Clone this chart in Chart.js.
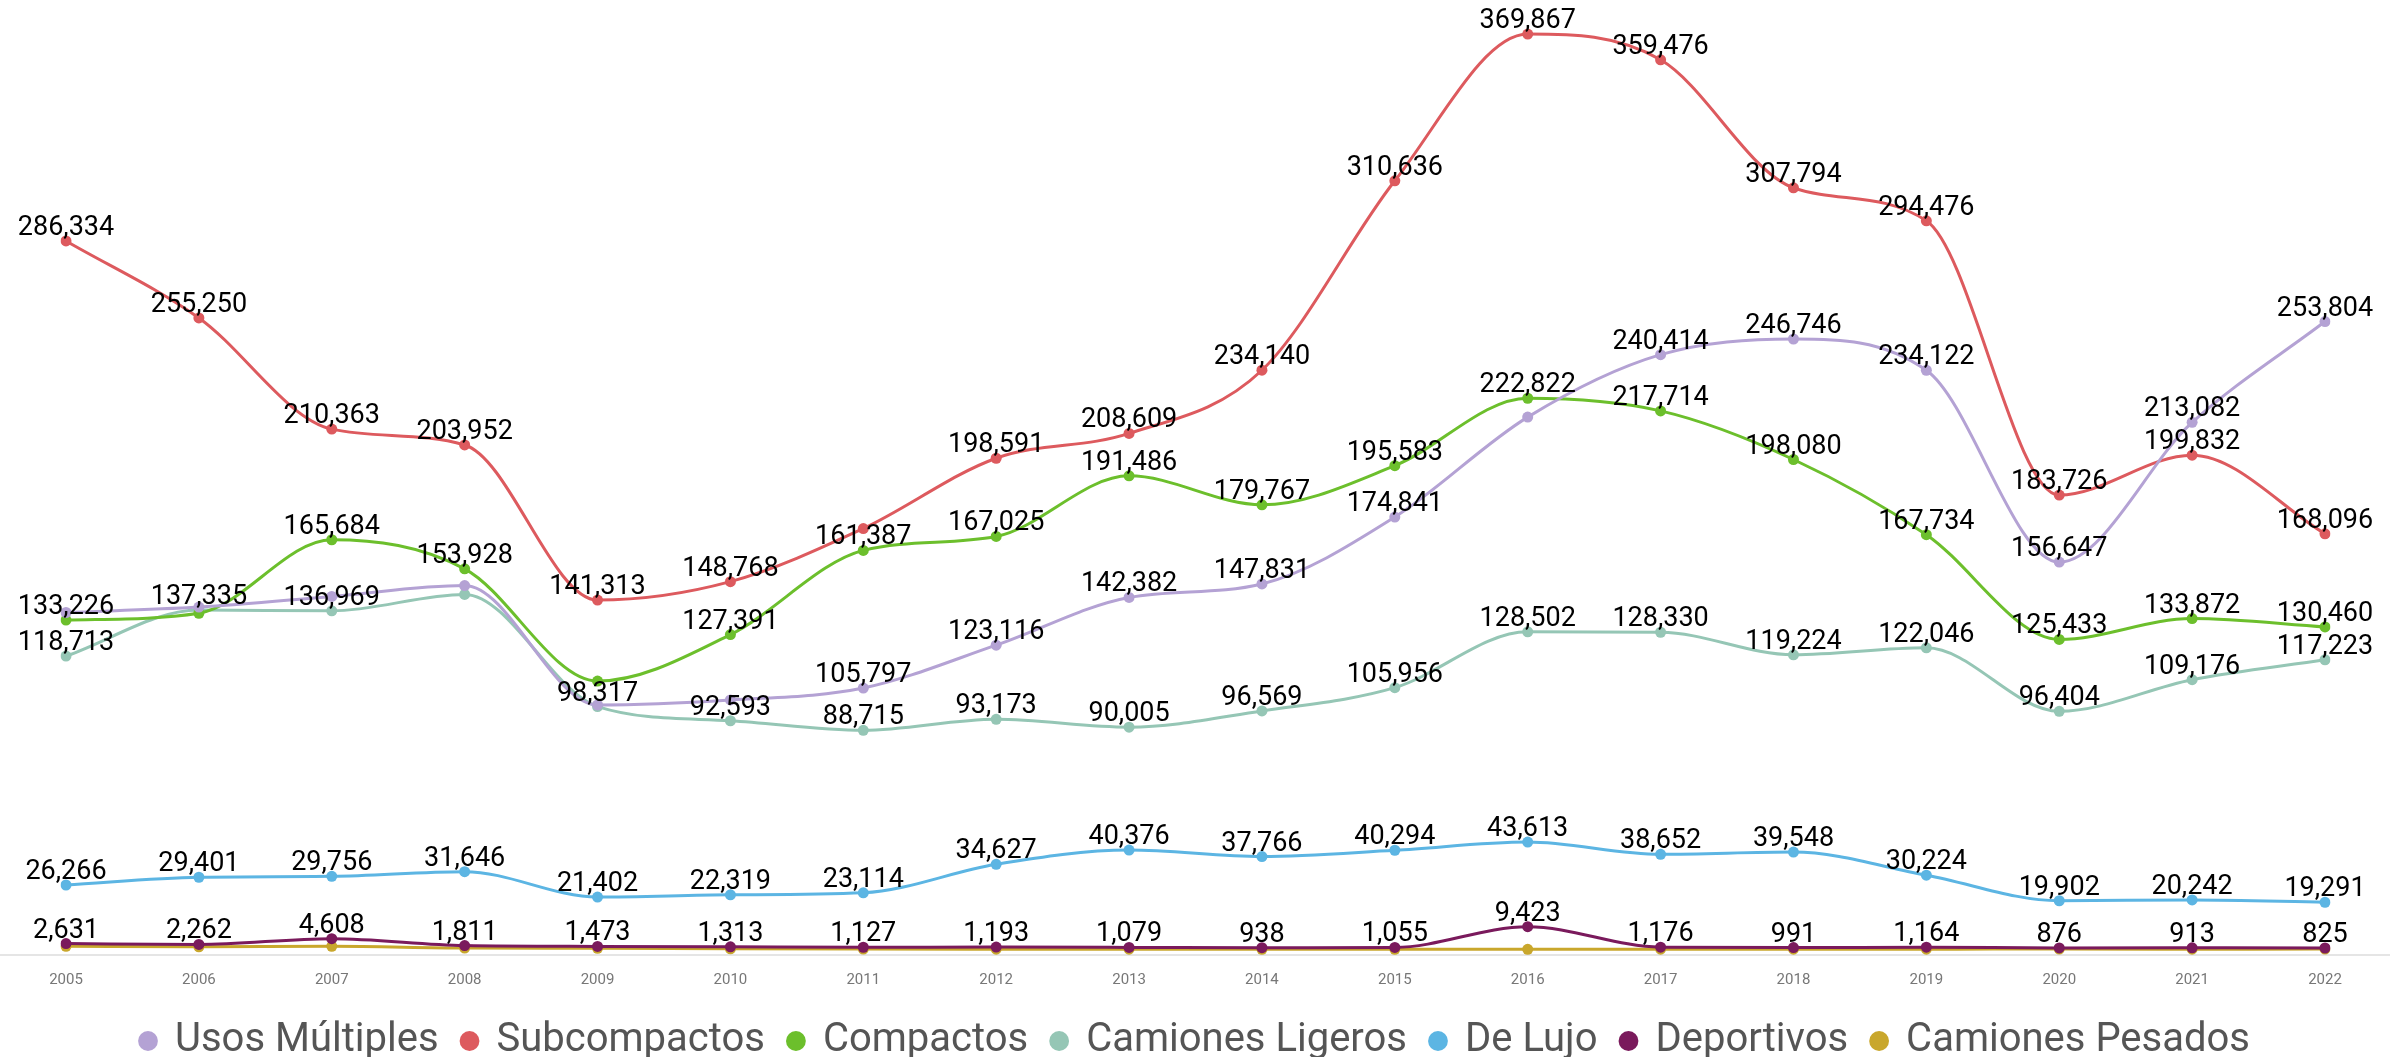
<!DOCTYPE html>
<html>
<head>
<meta charset="utf-8">
<script src="https://cdn.jsdelivr.net/npm/chart.js@4.4.0/dist/chart.umd.min.js"></script>
<style>
  html, body { margin: 0; padding: 0; background: #fff; overflow: hidden; }
</style>
</head>
<body>
<canvas id="ventasChart" width="2400" height="1057"></canvas>
<script>
const years = ['2005', '2006', '2007', '2008', '2009', '2010', '2011', '2012', '2013',
               '2014', '2015', '2016', '2017', '2018', '2019', '2020', '2021', '2022'];

const usosMultiples   = [136300, 138500, 142800, 147200, 99000, 101000, 105797, 123116, 142382, 147831, 174841, 215200, 240414, 246746, 234122, 156647, 213082, 253804];
const subcompactos    = [286334, 255250, 210363, 203952, 141313, 148768, 170200, 198591, 208609, 234140, 310636, 369867, 359476, 307794, 294476, 183726, 199832, 168096];
const compactos       = [133226, 136000, 165684, 153928, 108600, 127391, 161387, 167025, 191486, 179767, 195583, 222822, 217714, 198080, 167734, 125433, 133872, 130460];
const camionesLigeros = [118713, 137335, 136969, 143600, 98317, 92593, 88715, 93173, 90005, 96569, 105956, 128502, 128330, 119224, 122046, 96404, 109176, 117223];
const deLujo          = [26266, 29401, 29756, 31646, 21402, 22319, 23114, 34627, 40376, 37766, 40294, 43613, 38652, 39548, 30224, 19902, 20242, 19291];
const deportivos      = [2631, 2262, 4608, 1811, 1473, 1313, 1127, 1193, 1079, 938, 1055, 9423, 1176, 991, 1164, 876, 913, 825];
const camionesPesados = [1500, 1300, 1500, 800, 700, 500, 400, 350, 350, 300, 300, 300, 350, 350, 350, 400, 350, 400];

// labels that sit on top of another one in the original and are not shown
const hiddenLabels = [
  'Usos Múltiples 2005', 'Usos Múltiples 2006', 'Compactos 2006', 'Usos Múltiples 2007',
  'Usos Múltiples 2008', 'Camiones Ligeros 2008', 'Compactos 2009', 'Usos Múltiples 2009',
  'Usos Múltiples 2010', 'Subcompactos 2011', 'Usos Múltiples 2016'
];

const series = [
  { label: 'Usos Múltiples',   data: usosMultiples,   color: '#b4a2d4' },
  { label: 'Subcompactos',     data: subcompactos,    color: '#dd5a5e' },
  { label: 'Compactos',        data: compactos,       color: '#6cbf2c' },
  { label: 'Camiones Ligeros', data: camionesLigeros, color: '#95c6b5' },
  { label: 'De Lujo',          data: deLujo,          color: '#5cb5e3' },
  { label: 'Deportivos',       data: deportivos,      color: '#7a1a5c' },
  { label: 'Camiones Pesados', data: camionesPesados, color: '#c9a72c', noLabels: true }
];

const valueLabels = {
  id: 'valueLabels',
  afterDatasetsDraw(chart) {
    const ctx = chart.ctx;
    ctx.save();
    ctx.font = '27px Roboto';
    ctx.fillStyle = '#000';
    ctx.textAlign = 'center';
    ctx.textBaseline = 'alphabetic';
    chart.data.datasets.forEach((ds, i) => {
      if (ds.noLabels) return;
      chart.getDatasetMeta(i).data.forEach((pt, j) => {
        if (hiddenLabels.includes(ds.label + ' ' + years[j])) return;
        ctx.fillText(ds.data[j].toLocaleString('en-US'), pt.x, pt.y - 6);
      });
    });
    ctx.restore();
  }
};

// thin base line under the plot, running almost across the whole canvas
const baseLine = {
  id: 'baseLine',
  beforeDatasetsDraw(chart) {
    const ctx = chart.ctx;
    const y = chart.chartArea.bottom;
    ctx.save();
    ctx.strokeStyle = '#dcdcdc';
    ctx.lineWidth = 1.5;
    ctx.beginPath();
    ctx.moveTo(0, y);
    ctx.lineTo(chart.width - 10, y);
    ctx.stroke();
    ctx.restore();
  }
};

const datasets = series.map(s => ({
  label: s.label,
  data: s.data,
  noLabels: s.noLabels,
  borderColor: s.color,
  backgroundColor: s.color,
  pointBackgroundColor: s.color,
  pointBorderWidth: 0,
  pointRadius: 5.5,
  borderWidth: 3,
  cubicInterpolationMode: 'monotone',
  fill: false
}));

new Chart(document.getElementById('ventasChart').getContext('2d'), {
  type: 'line',
  data: { labels: years, datasets: datasets },
  options: {
    responsive: false,
    animation: false,
    layout: { padding: { top: 9, left: 66, right: 75, bottom: -14 } },
    plugins: {
      legend: {
        position: 'bottom',
        labels: {
          usePointStyle: true,
          pointStyle: 'circle',
          boxWidth: 14,
          boxHeight: 14,
          padding: 24,
          color: '#555',
          font: { family: 'Roboto', size: 40 }
        }
      },
      tooltip: { enabled: false }
    },
    scales: {
      x: {
        grid: { display: false },
        border: { display: false },
        ticks: { color: '#777', font: { family: 'Roboto', size: 15 }, padding: 8, maxRotation: 0, autoSkip: false }
      },
      y: { display: false, min: -2000, max: 380000 }
    }
  },
  plugins: [baseLine, valueLabels]
});
</script>
</body>
</html>
